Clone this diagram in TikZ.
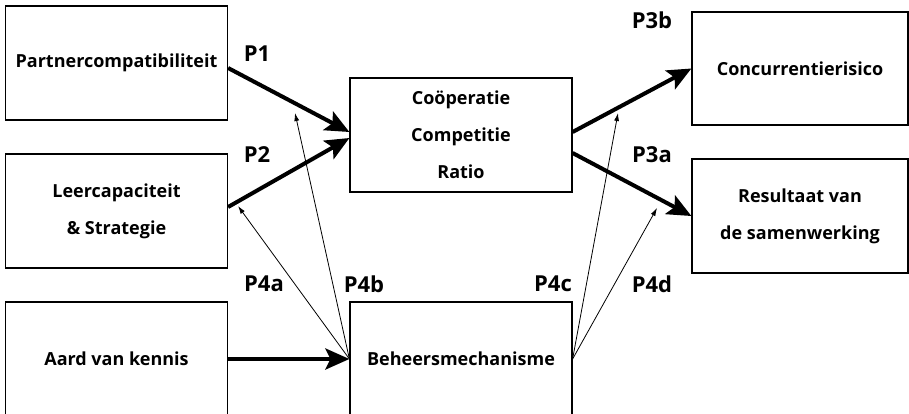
\documentclass[tikz,border=0pt]{standalone}
\usepackage{fontspec}
\setmainfont{Open Sans}
\usetikzlibrary{arrows.meta}
\tikzset{
  box/.style={draw,line width=1.2pt,minimum width=222pt,minimum height=114pt,
    align=center,font=\bfseries\fontsize{18}{37}\selectfont,inner sep=0pt},
  lbl/.style={font=\bfseries\fontsize{22}{24}\selectfont},
  main/.style={line width=4pt,-{Stealth[length=24pt,width=21pt,inset=5pt]}},
  thin/.style={line width=0.8pt,-{Latex[length=8pt,width=5pt]}}
}
\begin{document}
\begin{tikzpicture}[x=1pt,y=-1pt]
    \useasboundingbox (0,0) rectangle (909,413);
    \clip (0,0) rectangle (909,413);
    % boxes left
    \node[box] (partner) at (116.5,63) {Partnercompatibiliteit};
    \node[box] (leer) at (116.5,211) {Leercapaciteit\\\& Strategie};
    \node[box] (aard) at (116.5,359) {Aard van kennis};
    % boxes middle
    \node[box] (coop) at (461,135) {Coöperatie\\Competitie\\Ratio};
    \node[box] (beheer) at (461,359) {Beheersmechanisme};
    % boxes right
    \node[box,minimum width=216pt,minimum height=113pt] (concur) at (800,68.5) {Concurrentierisico};
    \node[box,minimum width=216pt,minimum height=114pt] (result) at (800,216) {Resultaat van\\de samenwerking};
    % main effects
    \draw[main] ([yshift=-5pt]partner.east) -- ([yshift=3pt]coop.west);
    \draw[main] ([yshift=4pt]leer.east) -- ([yshift=-3pt]coop.west);
    \draw[main] ([yshift=3pt]coop.east) -- (concur.west);
    \draw[main] ([yshift=-18pt]coop.east) -- (result.west);
    \draw[main] (aard.east) -- (beheer.west);
    % moderating effects
    \coordinate (p4a) at (238,206);
    \coordinate (p4b) at (295,113);
    \coordinate (p4c) at (618,113);
    \coordinate (p4d) at (657,208);
    \draw[thin] (beheer.west) -- (p4a);
    \draw[thin] (beheer.west) -- (p4b);
    \draw[thin] (beheer.east) -- (p4c);
    \draw[thin] (beheer.east) -- (p4d);
    % labels
    \node[lbl] (l1) at (257,54) {P1};
    \node[lbl] (l2) at (257,155) {P2};
    \node[lbl] (l3b) at (652,20) {P3b};
    \node[lbl] (l3a) at (652,155) {P3a};
    \node[lbl] (l4a) at (264,284) {P4a};
    \node[lbl] (l4b) at (364,284) {P4b};
    \node[lbl] (l4c) at (553,284) {P4c};
    \node[lbl] (l4d) at (652,284) {P4d};
\end{tikzpicture}
\end{document}
